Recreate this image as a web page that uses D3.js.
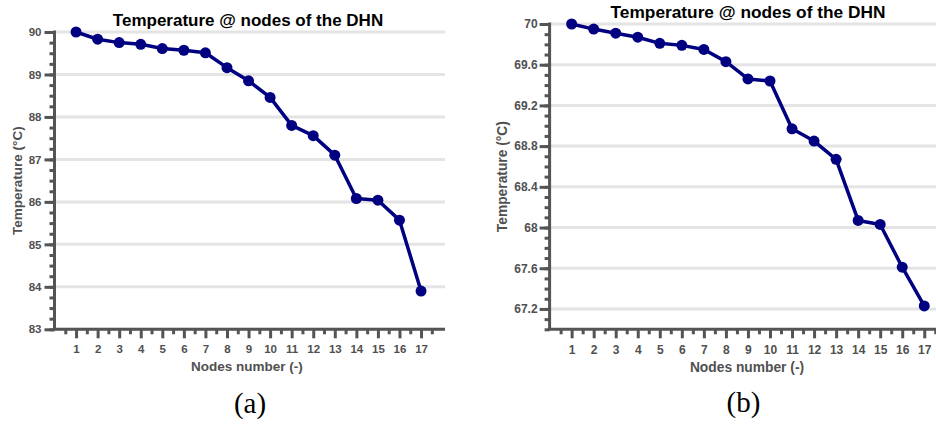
<!DOCTYPE html>
<html>
<head>
<meta charset="utf-8">
<script src="https://cdn.jsdelivr.net/npm/d3@7"></script>
<style>
  body { margin: 0; background: #fff; }
  svg { display: block; }
  text { font-family: "Liberation Sans", Arial, sans-serif; }
</style>
</head>
<body>
<div id="chart"></div>
<script>
// noeuds du reseau
var nodes = [1, 2, 3, 4, 5, 6, 7, 8, 9, 10, 11, 12, 13, 14, 15, 16, 17];

var tempA = [90.00, 89.83, 89.75, 89.71, 89.61, 89.57, 89.51, 89.16, 88.85, 88.46, 87.80, 87.56, 87.10, 86.08, 86.04, 85.57, 83.90];
var tempB = [70.00, 69.95, 69.91, 69.87, 69.81, 69.79, 69.75, 69.63, 69.46, 69.44, 68.97, 68.85, 68.67, 68.07, 68.03, 67.61, 67.23];

// graduations
var ticksA = [83, 84, 85, 86, 87, 88, 89, 90];
var ticksB = [67.2, 67.6, 68, 68.4, 68.8, 69.2, 69.6, 70];

var title = "Temperature @ nodes of the DHN";
var xTitle = "Nodes number (-)";
var yTitle = "Temperature (\u00b0C)";

var svg = d3.select("#chart").append("svg")
    .attr("width", 936)
    .attr("height", 424);

var axisColor = "#545454";
var textColor = "#505050";

function drawChart(cfg) {
    var g = svg.append("g");

    var x = d3.scaleLinear().domain([0, 18]).range([cfg.left, cfg.right]);
    var y = d3.scaleLinear().domain(cfg.yDomain).range([cfg.bottom, cfg.top]);

    // grille horizontale
    g.append("g").selectAll("line")
        .data(cfg.yTicks)
        .enter().append("line")
        .attr("x1", x(0))
        .attr("x2", cfg.gridEnd)
        .attr("y1", function (d) { return y(d); })
        .attr("y2", function (d) { return y(d); })
        .attr("stroke", "#e4e4e4")
        .attr("stroke-width", 3);

    // petites graduations en y
    var yMinor = [];
    var n = Math.round((cfg.yDomain[1] - cfg.yDomain[0]) / cfg.yMinorStep);
    for (var i = 0; i <= n; i++) {
        yMinor.push(cfg.yDomain[0] + i * cfg.yMinorStep);
    }
    var yMinorAxis = g.append("g")
        .attr("transform", "translate(" + x(0) + ",0)")
        .call(d3.axisLeft(y).tickValues(yMinor).tickSize(5).tickFormat(""));

    var yAxis = g.append("g")
        .attr("transform", "translate(" + x(0) + ",0)")
        .call(d3.axisLeft(y).tickValues(cfg.yTicks).tickSize(10).tickPadding(cfg.yPad)
            .tickFormat(function (d) { return +d.toFixed(1); }));

    // graduations en x : entiers et demi-entiers
    var xMinor = [];
    for (var k = 0; k < nodes.length + 1; k++) {
        xMinor.push(k + 0.5);
    }
    var xMinorAxis = g.append("g")
        .attr("transform", "translate(0," + cfg.bottom + ")")
        .call(d3.axisBottom(x).tickValues(xMinor).tickSize(5).tickFormat(""));

    var xAxis = g.append("g")
        .attr("transform", "translate(0," + cfg.bottom + ")")
        .call(d3.axisBottom(x).tickValues(nodes).tickSize(9).tickPadding(cfg.xPad));

    [yMinorAxis, yAxis, xMinorAxis, xAxis].forEach(function (a) {
        a.select(".domain").remove();
        a.selectAll(".tick line")
            .attr("stroke", axisColor)
            .attr("stroke-width", 3);
        a.selectAll("text")
            .attr("fill", textColor)
            .style("font-size", cfg.tickFont + "px")
            .style("font-weight", "bold");
    });

    // lignes des axes
    g.append("line")
        .attr("x1", x(0)).attr("x2", x(0))
        .attr("y1", cfg.top - 1.5).attr("y2", cfg.bottom)
        .attr("stroke", axisColor).attr("stroke-width", 3);
    g.append("line")
        .attr("x1", x(0) - 1.5).attr("x2", cfg.gridEnd)
        .attr("y1", cfg.bottom).attr("y2", cfg.bottom)
        .attr("stroke", axisColor).attr("stroke-width", 3);

    // courbe et points
    var line = d3.line()
        .x(function (d, i) { return x(nodes[i]); })
        .y(function (d) { return y(d); });

    g.append("path")
        .datum(cfg.values)
        .attr("d", line)
        .attr("fill", "none")
        .attr("stroke", "#000080")
        .attr("stroke-width", 3.5)
        .attr("stroke-linejoin", "round");

    g.append("g").selectAll("circle")
        .data(cfg.values)
        .enter().append("circle")
        .attr("cx", function (d, i) { return x(nodes[i]); })
        .attr("cy", function (d) { return y(d); })
        .attr("r", 5.5)
        .attr("fill", "#000080");

    // titres
    g.append("text")
        .attr("x", cfg.titleX)
        .attr("y", cfg.titleY)
        .attr("text-anchor", "middle")
        .style("font-size", cfg.titleFont + "px")
        .style("font-weight", "bold")
        .attr("fill", "#000")
        .text(title);

    g.append("text")
        .attr("x", cfg.xTitleX)
        .attr("y", cfg.xTitleY)
        .attr("text-anchor", "middle")
        .style("font-size", cfg.labelFont + "px")
        .style("font-weight", "bold")
        .attr("fill", textColor)
        .text(xTitle);

    g.append("text")
        .attr("transform", "translate(" + cfg.yTitleX + "," + ((cfg.top + cfg.bottom) / 2) + ") rotate(-90)")
        .attr("text-anchor", "middle")
        .style("font-size", cfg.labelFont + "px")
        .style("font-weight", "bold")
        .attr("fill", textColor)
        .text(yTitle);

    // legende (a) / (b)
    g.append("text")
        .attr("x", cfg.captionX)
        .attr("y", cfg.captionY)
        .attr("text-anchor", "middle")
        .style("font-family", "'Liberation Serif', 'Times New Roman', serif")
        .style("font-size", "29px")
        .attr("fill", "#000")
        .text(cfg.caption);
}

drawChart({
    values: tempA, yDomain: [83, 90], yTicks: ticksA, yMinorStep: 0.25,
    left: 54.5, right: 442.6, top: 32, bottom: 329.3, gridEnd: 445,
    yPad: 3, xPad: 7, tickFont: 11.5, labelFont: 13.5, titleFont: 17,
    titleX: 248, titleY: 26, xTitleX: 247, xTitleY: 371, yTitleX: 22,
    caption: "(a)", captionX: 250, captionY: 413
});

drawChart({
    values: tempB, yDomain: [67, 70], yTicks: ticksB, yMinorStep: 0.1,
    left: 549.6, right: 946.3, top: 24, bottom: 329.3, gridEnd: 950,
    yPad: 2, xPad: 7, tickFont: 12, labelFont: 13.8, titleFont: 17.3,
    titleX: 748, titleY: 17.5, xTitleX: 747, xTitleY: 372, yTitleX: 507,
    caption: "(b)", captionX: 743.5, captionY: 412
});
</script>
</body>
</html>
